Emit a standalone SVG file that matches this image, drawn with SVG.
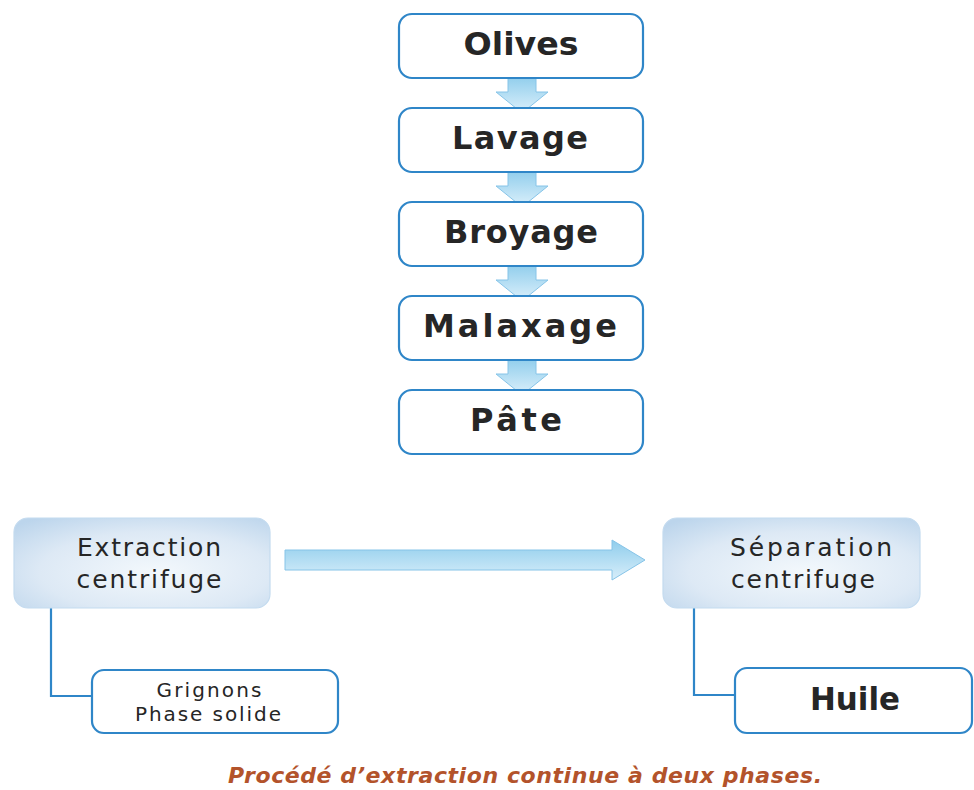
<svg xmlns="http://www.w3.org/2000/svg" width="974" height="790" viewBox="0 0 974 790">
  <defs>
    <linearGradient id="arrowV" x1="0" y1="0" x2="0" y2="1">
      <stop offset="0" stop-color="#8fcdec"/>
      <stop offset="1" stop-color="#dcf0fb"/>
    </linearGradient>
    <linearGradient id="arrowH" x1="0" y1="0" x2="0" y2="1">
      <stop offset="0" stop-color="#8fcdec"/>
      <stop offset="1" stop-color="#d8eefa"/>
    </linearGradient>
    <radialGradient id="stageFill" cx="0.55" cy="0.6" r="0.75">
      <stop offset="0" stop-color="#f3f8fc"/>
      <stop offset="0.6" stop-color="#dde9f5"/>
      <stop offset="1" stop-color="#bcd5ec"/>
    </radialGradient>
    <style>
      .box { fill: #ffffff; stroke: #2f86c8; stroke-width: 2.2; }
      .stage { fill: url(#stageFill); stroke: #c4dbef; stroke-width: 1.2; }
      .arrow { stroke: #86c4e8; stroke-width: 1; }
      .link { fill: none; stroke: #2f86c8; stroke-width: 2.2; }
      .t { font-family: "DejaVu Sans", "Liberation Sans", sans-serif; fill: #262626; text-anchor: middle; }
      .big { font-size: 32px; font-weight: bold; }
      .mid { font-size: 25px; }
      .small { font-size: 20px; }
      .cap { font-family: "DejaVu Sans", "Liberation Sans", sans-serif; font-size: 22px; font-weight: bold; font-style: italic; fill: #b3532b; text-anchor: middle; }
    </style>
  </defs>

  <!-- flow arrows and connectors -->
  <g id="connectors">
    <path class="arrow" fill="url(#arrowV)" d="M508,76 H536 V92 H548 L522,113 L496,92 H508 Z"/>
    <path class="arrow" fill="url(#arrowV)" d="M508,170 H536 V186 H548 L522,207 L496,186 H508 Z"/>
    <path class="arrow" fill="url(#arrowV)" d="M508,264 H536 V280 H548 L522,301 L496,280 H508 Z"/>
    <path class="arrow" fill="url(#arrowV)" d="M508,358 H536 V374 H548 L522,395 L496,374 H508 Z"/>
    <path class="arrow" fill="url(#arrowH)" d="M285,550 H612 V540 L645,560 L612,580 V570 H285 Z"/>
    <path class="link" d="M51,608 V696 H92"/>
    <path class="link" d="M694,608 V695 H735"/>
  </g>

  <g id="olives">
    <rect class="box" x="399" y="14" width="244" height="64" rx="13"/>
    <text class="t big" x="521" y="55" textLength="115" lengthAdjust="spacingAndGlyphs">Olives</text>
  </g>
  <g id="lavage">
    <rect class="box" x="399" y="108" width="244" height="64" rx="13"/>
    <text class="t big" x="520" y="149" textLength="136" lengthAdjust="spacing">Lavage</text>
  </g>
  <g id="broyage">
    <rect class="box" x="399" y="202" width="244" height="64" rx="13"/>
    <text class="t big" x="521" y="243" textLength="154" lengthAdjust="spacing">Broyage</text>
  </g>
  <g id="malaxage">
    <rect class="box" x="399" y="296" width="244" height="64" rx="13"/>
    <text class="t big" x="520" y="337" textLength="194" lengthAdjust="spacing">Malaxage</text>
  </g>
  <g id="pate">
    <rect class="box" x="399" y="390" width="244" height="64" rx="13"/>
    <text class="t big" x="516" y="431" textLength="92" lengthAdjust="spacing">Pâte</text>
  </g>

  <g id="extraction">
    <rect class="stage" x="14" y="518" width="256" height="90" rx="14"/>
    <text class="t mid" x="149" y="556" textLength="144" lengthAdjust="spacing">Extraction</text>
    <text class="t mid" x="149" y="588" textLength="145" lengthAdjust="spacing">centrifuge</text>
  </g>
  <g id="separation">
    <rect class="stage" x="663" y="518" width="257" height="90" rx="14"/>
    <text class="t mid" x="811" y="556" textLength="162" lengthAdjust="spacing">Séparation</text>
    <text class="t mid" x="803" y="588" textLength="144" lengthAdjust="spacing">centrifuge</text>
  </g>

  <g id="grignons">
    <rect class="box" x="92" y="670" width="246" height="63" rx="12"/>
    <text class="t small" x="209" y="697" textLength="105" lengthAdjust="spacing">Grignons</text>
    <text class="t small" x="208" y="721" textLength="146" lengthAdjust="spacing">Phase solide</text>
  </g>
  <g id="huile">
    <rect class="box" x="735" y="668" width="237" height="65" rx="12"/>
    <text class="t big" x="855" y="710" textLength="90" lengthAdjust="spacingAndGlyphs">Huile</text>
  </g>

  <text class="cap" x="525" y="783" textLength="594" lengthAdjust="spacing">Procédé d’extraction continue à deux phases.</text>
</svg>
